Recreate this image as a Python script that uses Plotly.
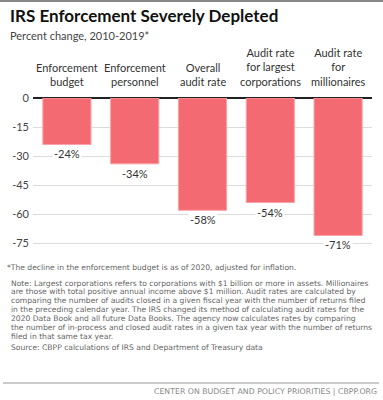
import plotly.graph_objects as go

categories = ["Enforcement<br>budget", "Enforcement<br>personnel", "Overall<br>audit rate",
              "Audit rate<br>for largest<br>corporations", "Audit rate<br>for<br>millionaires"]
values = [-24, -34, -58, -54, -71]
tick_vals = [0, -15, -30, -45, -60, -75]
tick_text = ["0", "-15", "-30", "-45", "-60", "-75"]

title = "<b>IRS Enforcement Severely Depleted</b>"
subtitle = "Percent change, 2010-2019*"
note_lines = [
    "*The decline in the enforcement budget is as of 2020, adjusted for inflation.",
    "Note: Largest corporations refers to corporations with $1 billion or more in assets. Millionaires",
    "are those with total positive annual income above $1 million. Audit rates are calculated by",
    "comparing the number of audits closed in a given fiscal year with the number of returns filed",
    "in the preceding calendar year. The IRS changed its method of calculating audit rates for the",
    "2020 Data Book and all future Data Books. The agency now calculates rates by comparing",
    "the number of in-process and closed audit rates in a given tax year with the number of returns",
    "filed in that same tax year.",
    "Source: CBPP calculations of IRS and Department of Treasury data",
]
footer = "CENTER ON BUDGET AND POLICY PRIORITIES | CBPP.ORG"

W, H = 383, 400
ML, MR, MT, MB = 33, 11, 98, 150
PW, PH = W - ML - MR, H - MT - MB
FONT = "Lato"
NOTE_FONT = "DejaVu Sans"


def px(x):
    return (x - ML) / PW


def py(y):
    return (H - MB - y) / PH


fig = go.Figure()
fig.add_trace(go.Bar(
    x=categories, y=values,
    marker=dict(color="#f46a72", line=dict(color="#f9a3a8", width=1)),
    hoverinfo="skip",
))

annotations = []
for c, v in zip(categories, values):
    annotations.append(dict(
        x=c, y=v, xref="x", yref="y", text=f"{v}%", showarrow=False,
        yanchor="top", xanchor="center", yshift=-1,
        font=dict(family=FONT, size=11, color="#333"),
        bgcolor="white", borderpad=1,
    ))
    annotations.append(dict(
        x=c, y=1, xref="x", yref="paper", text=c, showarrow=False,
        yanchor="bottom", xanchor="center", yshift=8,
        font=dict(family=FONT, size=11, color="#333"),
    ))

annotations.append(dict(x=px(8), y=py(15.5), xref="paper", yref="paper", text=title,
                        showarrow=False, xanchor="left", yanchor="middle",
                        font=dict(family=FONT, size=17, color="#111")))
annotations.append(dict(x=px(8), y=py(35), xref="paper", yref="paper", text=subtitle,
                        showarrow=False, xanchor="left", yanchor="middle",
                        font=dict(family=FONT, size=11, color="#444")))

note_y = [267, 283, 291.7, 300.3, 309.7, 318.3, 327.3, 336, 347.3]
note_x = [5, 9, 9, 9, 9, 9, 9, 9, 9]
for t, yy, xx in zip(note_lines, note_y, note_x):
    annotations.append(dict(x=px(xx), y=py(yy), xref="paper", yref="paper", text=t,
                            showarrow=False, xanchor="left", yanchor="middle",
                            font=dict(family=NOTE_FONT, size=7.6, color="#666")))

annotations.append(dict(x=px(379), y=py(391), xref="paper", yref="paper", text=footer,
                        showarrow=False, xanchor="right", yanchor="middle",
                        font=dict(family=NOTE_FONT, size=7.8, color="#888")))

shapes = [
    dict(type="line", xref="paper", yref="paper", x0=px(0), x1=px(W), y0=py(1), y1=py(1),
         line=dict(color="#888", width=2)),
    dict(type="line", xref="paper", yref="paper", x0=px(3), x1=px(379), y0=py(383), y1=py(383),
         line=dict(color="#999", width=1)),
]

fig.update_layout(
    width=W, height=H,
    margin=dict(l=ML, r=MR, t=MT, b=MB, pad=0),
    paper_bgcolor="white", plot_bgcolor="white",
    showlegend=False, bargap=0.29,
    annotations=annotations, shapes=shapes,
    font=dict(family=FONT),
    xaxis=dict(showticklabels=False, showgrid=False, zeroline=False, ticks="", fixedrange=True),
    yaxis=dict(range=[-78.5, 0], tickvals=tick_vals, ticktext=tick_text,
               showgrid=True, gridcolor="#dcdcdc", gridwidth=1,
               zeroline=True, zerolinecolor="#222", zerolinewidth=1.5,
               ticks="", ticklabelstandoff=3,
               tickfont=dict(family=FONT, size=11, color="#444"), fixedrange=True),
)

fig.write_html("out.html", config={"displayModeBar": False},
               post_script="document.body.style.margin='0px';document.body.style.overflow='hidden';")
